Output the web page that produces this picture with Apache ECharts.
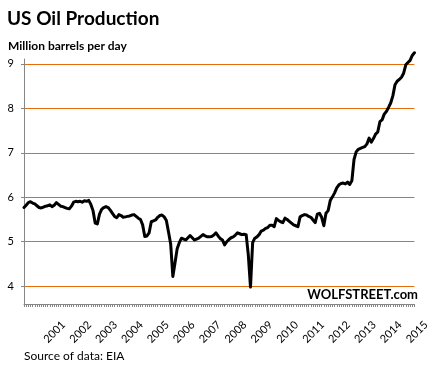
<!DOCTYPE html>
<html>
<head>
<meta charset="utf-8">
<script src="https://cdn.jsdelivr.net/npm/echarts@6/dist/echarts.min.js"></script>
<style>
html,body{margin:0;padding:0;background:#fff;}
#chart{width:432px;height:379px;}
</style>
</head>
<body>
<div id="chart"></div>
<script>
// Monthly US oil production, million barrels per day, Jan 2000 .. Feb 2015
const startYear = 2000;
const production = [
  // 2000
  5.77, 5.82, 5.88, 5.90, 5.87, 5.85, 5.81, 5.77, 5.76, 5.78, 5.80, 5.81,
  // 2001
  5.83, 5.79, 5.82, 5.88, 5.84, 5.80, 5.79, 5.77, 5.75, 5.74, 5.80, 5.89,
  // 2002
  5.91, 5.90, 5.91, 5.89, 5.92, 5.91, 5.93, 5.84, 5.70, 5.42, 5.40, 5.62,
  // 2003
  5.73, 5.77, 5.79, 5.77, 5.71, 5.64, 5.57, 5.54, 5.61, 5.59, 5.55, 5.56,
  // 2004
  5.57, 5.58, 5.60, 5.61, 5.57, 5.53, 5.50, 5.38, 5.12, 5.13, 5.20, 5.45,
  // 2005
  5.47, 5.49, 5.55, 5.59, 5.60, 5.56, 5.48, 5.22, 4.95, 4.22, 4.52, 4.84,
  // 2006
  4.98, 5.08, 5.06, 5.04, 5.09, 5.14, 5.09, 5.04, 5.06, 5.08, 5.12, 5.16,
  // 2007
  5.13, 5.11, 5.11, 5.12, 5.15, 5.20, 5.13, 5.07, 5.04, 4.93, 5.00, 5.05,
  // 2008
  5.09, 5.11, 5.15, 5.20, 5.18, 5.16, 5.17, 5.16, 4.70, 3.98, 4.98, 5.08,
  // 2009
  5.11, 5.16, 5.24, 5.26, 5.30, 5.32, 5.37, 5.37, 5.34, 5.52, 5.48, 5.45,
  // 2010
  5.43, 5.53, 5.50, 5.46, 5.42, 5.38, 5.36, 5.34, 5.56, 5.59, 5.61, 5.60,
  // 2011
  5.57, 5.55, 5.49, 5.43, 5.62, 5.64, 5.55, 5.36, 5.64, 5.70, 5.93, 6.01,
  // 2012
  6.10, 6.21, 6.28, 6.31, 6.32, 6.30, 6.34, 6.29, 6.37, 6.85, 7.02, 7.08,
  // 2013
  7.10, 7.12, 7.14, 7.20, 7.33, 7.24, 7.32, 7.42, 7.47, 7.70, 7.74, 7.87,
  // 2014
  7.93, 8.02, 8.12, 8.28, 8.53, 8.61, 8.65, 8.70, 8.79, 8.98, 9.03, 9.08,
  // 2015
  9.19, 9.25
];
const yearLabels = ['2001','2002','2003','2004','2005','2006','2007','2008',
                    '2009','2010','2011','2012','2013','2014','2015'];
const yTicks = [4, 5, 6, 7, 8, 9];

const points = production.map((v, i) => [startYear + i / 12, v]);
const monthTicks = production.map((v, i) => startYear + i / 12);
// year labels drawn rotated, anchored at their lower-left end
const labelAnchors = yearLabels.map(y => Number(y) - 2 / 12);

const FONT = 'Lato, "Open Sans", sans-serif';
const chart = echarts.init(document.getElementById('chart'), null, {renderer: 'canvas'});
chart.setOption({
  animation: false,
  backgroundColor: '#ffffff',
  title: [
    {text: 'US Oil Production', left: 7, top: 9, padding: 0,
     textStyle: {fontFamily: FONT, fontSize: 19, fontWeight: 'bold', color: '#000'}},
    {text: 'Million barrels per day', left: 8, top: 40, padding: 0,
     textStyle: {fontFamily: FONT, fontSize: 12, fontWeight: 'bold', color: '#000'}},
    {text: 'WOLFSTREET.com', right: 14, top: 288, padding: 0,
     textStyle: {fontFamily: FONT, fontSize: 13, fontWeight: 'bold', color: '#000'}},
    {text: 'Source of data: EIA', left: 24, top: 350, padding: 0,
     textStyle: {fontFamily: FONT, fontSize: 12, fontWeight: 'normal', color: '#000'}}
  ],
  grid: {left: 24, right: 13, top: 59, bottom: 75, containLabel: false},
  xAxis: {
    type: 'value',
    min: startYear,
    max: startYear + (production.length - 1) / 12,
    axisLine: {show: true, onZero: false, lineStyle: {color: '#868686', width: 1}},
    axisTick: {show: true, customValues: monthTicks, length: 3, inside: false,
               lineStyle: {color: '#868686', width: 1}},
    splitLine: {show: false},
    axisLabel: {
      customValues: labelAnchors,
      formatter: v => String(Math.round(v)),
      rotate: 45,
      align: 'left',
      verticalAlign: 'middle',
      margin: 37,
      fontFamily: FONT, fontSize: 11, color: '#000'
    }
  },
  yAxis: {
    type: 'value',
    min: 3.6,
    max: 9.11,
    axisLine: {show: true, lineStyle: {color: '#868686', width: 1}},
    axisTick: {show: true, customValues: yTicks, length: 3, lineStyle: {color: '#868686'}},
    splitLine: {show: true, lineStyle: {color: '#E46C0A', width: 1}},
    axisLabel: {customValues: yTicks, margin: 10, fontFamily: FONT, fontSize: 11, color: '#000'}
  },
  series: [{
    type: 'line',
    data: points,
    showSymbol: false,
    clip: false,
    lineStyle: {color: '#000', width: 3, join: 'round', cap: 'round'},
    z: 5
  }]
});
</script>
</body>
</html>
